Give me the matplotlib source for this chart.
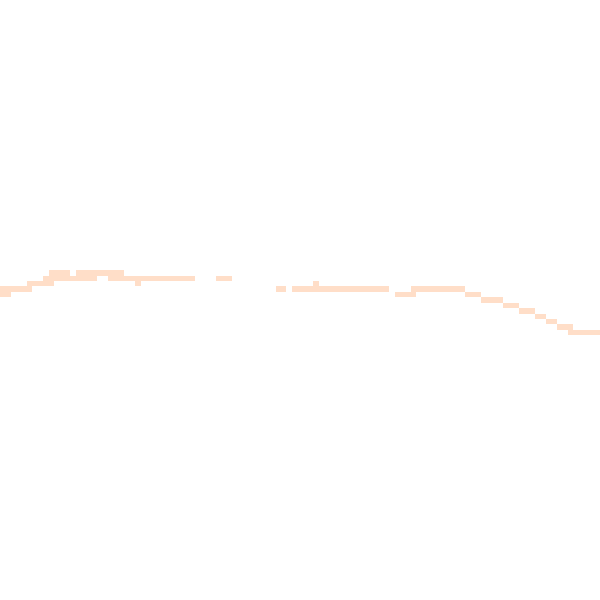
import numpy as np
import matplotlib
matplotlib.use("Agg")
import matplotlib.pyplot as plt
from matplotlib.colors import ListedColormap

# grid of 111 x 111 cells, only a thin band is filled
n_cells = 111

# filled runs: row index, first column, last column
seg_row = [50, 50, 51, 51, 51, 52, 52, 52, 53, 53, 53, 53,
           54, 54, 54, 55, 56, 57, 58, 59, 60, 61]
seg_start = [9, 14, 8, 20, 40, 5, 25, 58, 0, 51, 54, 76,
             0, 73, 86, 89, 93, 96, 99, 101, 103, 105]
seg_end = [12, 22, 17, 35, 42, 9, 25, 58, 5, 52, 71, 85,
           1, 76, 88, 92, 95, 98, 100, 102, 105, 110]

grid = np.full((n_cells, n_cells), np.nan)
for r, a, b in zip(seg_row, seg_start, seg_end):
    grid[r, a:b + 1] = 1.0

fig = plt.figure(figsize=(6, 6), dpi=100)
ax = fig.add_axes([0, 0, 1, 1])
ax.imshow(grid, cmap=ListedColormap(["#ffdec8"]), interpolation="nearest",
          extent=(0, n_cells, n_cells, 0), aspect="auto")
ax.set_xlim(0, n_cells)
ax.set_ylim(n_cells, 0)
ax.axis("off")
fig.savefig("out.png", dpi=100, facecolor="white")
